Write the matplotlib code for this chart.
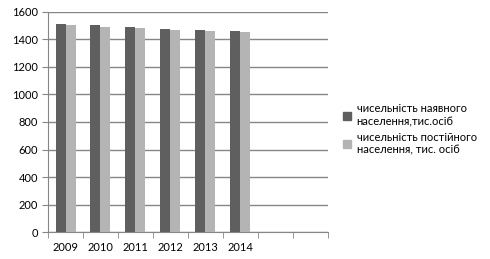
import numpy as np
import matplotlib.pyplot as plt
from matplotlib.patches import Patch

plt.rcParams['font.family'] = ['Lato', 'DejaVu Sans']

# data
years = ['2009', '2010', '2011', '2012', '2013', '2014', '', '']
present_pop = [1512, 1505, 1490, 1475, 1468, 1461]
resident_pop = [1505, 1490, 1483, 1468, 1461, 1454]
labels = ['чисельність наявного\nнаселення,тис.осіб',
          'чисельність постійного\nнаселення, тис. осіб']
colors = ['#5f5f5f', '#b4b4b4']

fig = plt.figure(figsize=(4.9, 2.59), dpi=100)
ax = fig.add_axes([0.098, 0.104, 0.571, 0.850])

x = np.arange(len(present_pop))
w = 0.286
ax.bar(x - w / 2, present_pop, w, color=colors[0], zorder=3)
ax.bar(x + w / 2, resident_pop, w, color=colors[1], zorder=3)

ax.set_xlim(-0.5, len(years) - 0.5)
ax.set_ylim(0, 1600)
ax.set_yticks(range(0, 1601, 200))
ax.yaxis.grid(True, color='#868686', linewidth=1, zorder=0)

ax.set_xticks(np.arange(len(years)))
ax.set_xticklabels(years)
ax.set_xticks(np.arange(len(years) + 1) - 0.5, minor=True)
ax.tick_params(axis='x', which='major', length=0, pad=7, labelsize=8)
ax.tick_params(axis='x', which='minor', length=4, color='#868686')
ax.tick_params(axis='y', length=4, color='#868686', labelsize=8, pad=3)

for side in ['top', 'right']:
    ax.spines[side].set_visible(False)
for side in ['left', 'bottom']:
    ax.spines[side].set_color('#868686')

handles = [Patch(color=c) for c in colors]
fig.legend(handles, labels, loc='center left', bbox_to_anchor=(0.68, 0.5),
           frameon=False, fontsize=8, handlelength=0.7, handleheight=0.7,
           handletextpad=0.5, labelspacing=0.4)

fig.savefig('out.png', dpi=100)
